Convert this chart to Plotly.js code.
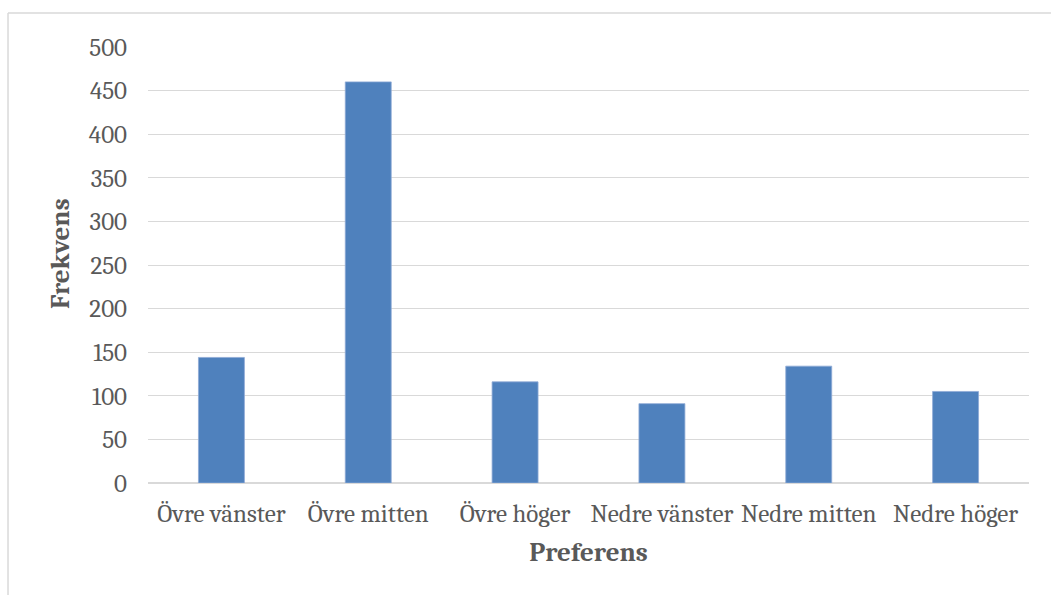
<!DOCTYPE html>
<html>
<head>
<meta charset="utf-8">
<script src="https://cdn.plot.ly/plotly-3.0.1.min.js"></script>
<style>
  html, body { margin: 0; padding: 0; background: #ffffff; }
  #chart { width: 1051px; height: 595px; }
</style>
</head>
<body>
<div id="chart"></div>
<script>
// Preferred position counts
const categories = ['Övre vänster', 'Övre mitten', 'Övre höger', 'Nedre vänster', 'Nedre mitten', 'Nedre höger'];
const frequencies = [144, 460, 116, 91, 134, 105];
const yTickValues = [0, 50, 100, 150, 200, 250, 300, 350, 400, 450, 500];
const xTitle = 'Preferens';
const yTitle = 'Frekvens';

const textFont = 'Cambria, "DejaVu Serif", serif';
const textColor = '#595959';
const gridColor = '#d9d9d9';

const trace = {
  type: 'bar',
  x: categories,
  y: frequencies,
  marker: { color: '#4f81bd', line: { color: '#8eaad6', width: 0.8 } },
  hoverinfo: 'x+y'
};

const layout = {
  width: 1051,
  height: 595,
  margin: { l: 148, r: 22, t: 47, b: 112 },
  paper_bgcolor: '#ffffff',
  plot_bgcolor: '#ffffff',
  bargap: 0.687,
  showlegend: false,
  font: { family: textFont, color: textColor, size: 25 },
  xaxis: {
    type: 'category',
    showgrid: false,
    showline: false,
    ticks: '',
    ticklabelstandoff: 13,
    tickfont: { family: textFont, size: 25, color: textColor },
    title: { text: xTitle, standoff: 15, font: { family: textFont, size: 27, color: textColor, weight: 'bold' } }
  },
  yaxis: {
    range: [0, 500],
    tickvals: yTickValues,
    showgrid: true,
    gridcolor: gridColor,
    gridwidth: 1,
    zeroline: true,
    zerolinecolor: gridColor,
    zerolinewidth: 1.5,
    showline: false,
    ticks: '',
    ticklabelstandoff: 20,
    tickfont: { family: textFont, size: 25, color: textColor }
  },
  annotations: [
    // vertical axis title
    { text: yTitle, xref: 'paper', yref: 'paper', x: -0.0999, y: 0.5275,
      xanchor: 'center', yanchor: 'middle', textangle: -90, showarrow: false,
      font: { family: textFont, size: 27, color: textColor, weight: 'bold' } }
  ],
  shapes: [
    // outer chart frame (top and left edges)
    { type: 'line', xref: 'paper', yref: 'paper', x0: -0.1589, x1: 1.2, y0: 1.078, y1: 1.078,
      line: { color: gridColor, width: 1.5 } },
    { type: 'line', xref: 'paper', yref: 'paper', x0: -0.1589, x1: -0.1589, y0: 1.078, y1: -0.3,
      line: { color: gridColor, width: 1.5 } }
  ]
};

Plotly.newPlot('chart', [trace], layout, { displayModeBar: false, staticPlot: true });
</script>
</body>
</html>
